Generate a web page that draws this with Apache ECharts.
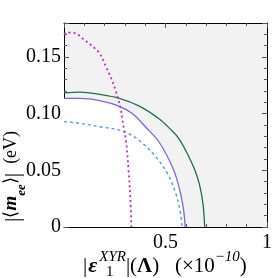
<!DOCTYPE html>
<html>
<head>
<meta charset="utf-8">
<script src="https://cdn.jsdelivr.net/npm/echarts@6/dist/echarts.min.js"></script>
<style>html,body{margin:0;padding:0;background:#fff;}#c{width:275px;height:278px;}</style>
</head>
<body>
<div id="c"></div>
<script>
// Data
var greenX = [0, 0.078, 0.176, 0.273, 0.371, 0.468, 0.52, 0.566, 0.615, 0.645, 0.668, 0.685, 0.693];
var greenY = [0.1184, 0.119, 0.117, 0.1135, 0.1066, 0.0955, 0.087, 0.078, 0.062, 0.050, 0.037, 0.020, 0];
var blueX = [0, 0.078, 0.176, 0.273, 0.338, 0.403, 0.468, 0.533, 0.564, 0.587, 0.597];
var blueY = [0.1135, 0.1135, 0.1115, 0.1065, 0.1, 0.088, 0.075, 0.0533, 0.037, 0.018, 0];
var dashX = [0, 0.078, 0.176, 0.273, 0.338, 0.387, 0.452, 0.509, 0.55, 0.572, 0.582];
var dashY = [0.093, 0.0915, 0.0885, 0.0855, 0.0805, 0.0739, 0.062, 0.0475, 0.03, 0.014, 0];
var magX = [0, 0.013, 0.054, 0.094, 0.143, 0.176, 0.208, 0.233, 0.257, 0.277, 0.293, 0.306, 0.318, 0.327, 0.332];
var magY = [0.170, 0.1715, 0.171, 0.166, 0.159, 0.153, 0.141, 0.131, 0.119, 0.106, 0.089, 0.075, 0.05, 0.025, 0];
var xTicks = { min: 0, max: 1, interval: 0.5 };
var yTicks = { min: 0, max: 0.18, interval: 0.05 };

function pairs(xs, ys) { return xs.map(function (x, i) { return [x, ys[i]]; }); }

var FONT = 'Liberation Serif';
var chart = echarts.init(document.getElementById('c'), null, { renderer: 'canvas' });

function axisBase(pos, showLabel, ticks, fmt) {
  return {
    type: 'value', position: pos, min: ticks.min, max: ticks.max, interval: ticks.interval,
    axisLine: { show: true, onZero: false, lineStyle: { color: '#000', width: 1 } },
    axisTick: { show: true, inside: true, length: 5, lineStyle: { color: '#555', width: 1 } },
    minorTick: { show: true, splitNumber: 5, length: 3, lineStyle: { color: '#555', width: 1 } },
    splitLine: { show: false },
    axisLabel: { show: showLabel, fontFamily: FONT, fontSize: 20, color: '#000', margin: 3, formatter: fmt,
      showMinLabel: true, showMaxLabel: true }
  };
}

var xb = axisBase('bottom', true, xTicks, function (v) { return v === 0 ? '' : String(v); });
xb.axisLabel.margin = 6;
var xt = axisBase('top', false, xTicks);
var yl = axisBase('left', true, yTicks, function (v) { return v === 0 ? '0' : (v > 0.175 ? '' : v.toFixed(2)); });
var yr = axisBase('right', false, yTicks);

var option = {
  animation: false,
  backgroundColor: '#fff',
  grid: { left: 64, right: 6, top: 23, bottom: 51, show: true, backgroundColor: '#f2f2f2', borderWidth: 0 },
  xAxis: [xb, xt],
  yAxis: [yl, yr],
  series: [
    { type: 'line', data: pairs(blueX, blueY), smooth: 0.35, symbol: 'none', z: 1,
      lineStyle: { width: 0, opacity: 0 }, areaStyle: { color: '#ffffff', opacity: 1 } },
    { type: 'line', data: pairs(greenX, greenY), smooth: 0.35, symbol: 'none', z: 3,
      lineStyle: { color: '#17744a', width: 1.3 } },
    { type: 'line', data: pairs(blueX, blueY), smooth: 0.35, symbol: 'none', z: 3,
      lineStyle: { color: '#7a62f5', width: 1.3 } },
    { type: 'line', data: pairs(dashX, dashY), smooth: 0.35, symbol: 'none', z: 3,
      lineStyle: { color: '#4f96ff', width: 1.4, type: [3, 3] } },
    { type: 'line', data: pairs(magX, magY), smooth: 0.35, symbol: 'none', z: 3,
      lineStyle: { color: '#c925c9', width: 1.8, type: [2, 3] } }
  ],
  graphic: [
    { type: 'text', left: 83, top: 250, z: 10,
      style: {
        text: '{n||}{e|ε}{sp|XYR}{n||(}{L|Λ}{n|)   (×10}{sp|−10}{n|)}',
        fontFamily: FONT, fill: '#000',
        rich: {
          n: { fontFamily: FONT, fontSize: 21, lineHeight: 27, verticalAlign: 'bottom' },
          L: { fontFamily: FONT, fontSize: 21, fontWeight: 'bold', lineHeight: 27, verticalAlign: 'bottom' },
          e: { fontFamily: FONT, fontSize: 22, fontStyle: 'italic', fontWeight: 'bold', lineHeight: 27, verticalAlign: 'bottom', padding: [0, 2, 0, 1] },
          sp: { fontFamily: FONT, fontSize: 15, fontStyle: 'italic', lineHeight: 27, verticalAlign: 'top' }
        }
      } },
    { type: 'text', left: 106, top: 265, z: 10,
      style: { text: '1', fontFamily: FONT, fontSize: 15, fill: '#000' } },
    { type: 'text', x: 2, y: 222, rotation: Math.PI / 2, z: 10,
      style: {
        text: '{b||}{n|⟨}{m|m}{sb|ee}{n|⟩}{b||}{n|  (eV)}',
        fontFamily: FONT, fill: '#000',
        rich: {
          b: { fontFamily: FONT, fontSize: 22, lineHeight: 26, verticalAlign: 'top' },
          n: { fontFamily: FONT, fontSize: 18, lineHeight: 26, verticalAlign: 'top' },
          m: { fontFamily: FONT, fontSize: 19, fontStyle: 'italic', fontWeight: 'bold', lineHeight: 26, verticalAlign: 'top' },
          sb: { fontFamily: FONT, fontSize: 13, fontStyle: 'italic', fontWeight: 'bold', lineHeight: 26, verticalAlign: 'bottom' }
        }
      } }
  ]
};
chart.setOption(option);
</script>
</body>
</html>
